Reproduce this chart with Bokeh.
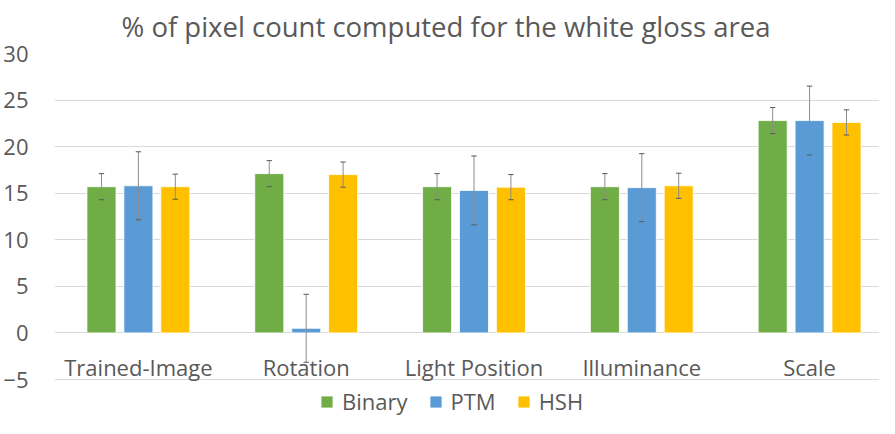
from bokeh.plotting import figure
from bokeh.models import ColumnDataSource, FixedTicker, Legend, LegendItem, Range1d
from bokeh.core.properties import value
from bokeh.embed import file_html
from bokeh.resources import INLINE

# ---- data ----
categories = ["Trained-Image", "Rotation", "Light Position", "Illuminance", "Scale"]
binary = [15.7, 17.1, 15.7, 15.7, 22.8]
ptm = [15.8, 0.5, 15.3, 15.6, 22.8]
hsh = [15.7, 17.0, 15.65, 15.8, 22.6]
binary_err = [1.4, 1.4, 1.4, 1.4, 1.4]
ptm_err = [3.65, 3.65, 3.7, 3.65, 3.7]
hsh_err = [1.35, 1.35, 1.35, 1.35, 1.35]
series_names = ["Binary", "PTM", "HSH"]
y_ticks = [-5, 0, 5, 10, 15, 20, 25, 30]
title_text = "% of pixel count computed for the white gloss area"

# ---- style / layout ----
FONT = "Open Sans"
TXT = "#595959"
colors = ["#70AD47", "#5B9BD5", "#FFC000"]
offsets = [-0.22, 0.0, 0.22]     # in category units
bar_w = 0.173
cap = 0.016

W, H = 879, 418
LEFT, TOP = 53, 53
SLOT_PX = 168                      # width of one category slot
GRID_H = 326                       # px between top and bottom gridlines
px_per_unit = GRID_H / (y_ticks[-1] - y_ticks[0])
y_lo = y_ticks[0] - (H - TOP - GRID_H) / px_per_unit   # room for legend inside frame
x_hi = (W - LEFT) / SLOT_PX

p = figure(x_range=Range1d(0, x_hi), y_range=Range1d(y_lo, y_ticks[-1]),
           width=W, height=H, output_backend="svg", toolbar_location=None,
           min_border_left=LEFT, min_border_right=0, min_border_top=TOP, min_border_bottom=0)
p.outline_line_color = None

p.title.text = title_text
p.title.align = "left"
p.title.offset = 67
p.title.vertical_align = "top"
p.title.standoff = 14
p.title.text_font = FONT
p.title.text_font_size = "27.5px"
p.title.text_font_style = "normal"
p.title.text_color = TXT

p.xaxis.visible = False
p.xgrid.grid_line_color = None
p.ygrid.grid_line_color = "#D9D9D9"
p.ygrid.grid_line_width = 1

p.yaxis.ticker = FixedTicker(ticks=y_ticks)
p.yaxis.axis_line_color = None
p.yaxis.major_tick_line_color = None
p.yaxis.minor_tick_line_color = None
p.yaxis.major_tick_out = 0
p.yaxis.major_tick_in = 0
p.yaxis.major_label_text_font = FONT
p.yaxis.major_label_text_font_size = "22px"
p.yaxis.major_label_text_color = TXT
p.yaxis.major_label_standoff = 26

idx = [i + 0.5 for i in range(len(categories))]   # slot centres on the x scale

vals = [binary, ptm, hsh]
errs = [binary_err, ptm_err, hsh_err]
items = []
for name, v, e, c, off in zip(series_names, vals, errs, colors, offsets):
    xs = [i + off for i in idx]
    src = ColumnDataSource(dict(x=xs, xl=[x - cap for x in xs], xr=[x + cap for x in xs],
                                val=v,
                                upper=[a + b for a, b in zip(v, e)],
                                lower=[a - b for a, b in zip(v, e)]))
    r = p.vbar(x="x", top="val", bottom=0, width=bar_w,
               source=src, fill_color=c, line_color="white", line_width=0.8)
    items.append(LegendItem(label=name, renderers=[r]))
    p.segment(x0="x", x1="x", y0="lower", y1="upper", source=src,
              line_color="#8C8C8C", line_width=1)
    for end in ("upper", "lower"):
        p.segment(x0="xl", x1="xr", y0=end, y1=end, source=src,
                  line_color="#595959", line_width=1)

# category labels, between the 0 and the lowest gridline
label_y = y_ticks[0] + 1.3
lab_src = ColumnDataSource(dict(x=idx, y=[label_y] * len(categories), t=categories))
p.text(x="x", y="y", text="t", source=lab_src, text_align="center",
       text_baseline="middle", text_font=value(FONT), text_font_size="22px",
       text_color=TXT)

legend = Legend(items=items, orientation="horizontal", location=(265, 2),
                glyph_width=15, glyph_height=15, label_standoff=8, spacing=20,
                padding=2, margin=0, border_line_color=None, background_fill_alpha=0,
                label_text_font=FONT, label_text_font_size="22px", label_text_color=TXT)
p.add_layout(legend, "center")

open("out.html", "w").write(file_html(p, INLINE))
